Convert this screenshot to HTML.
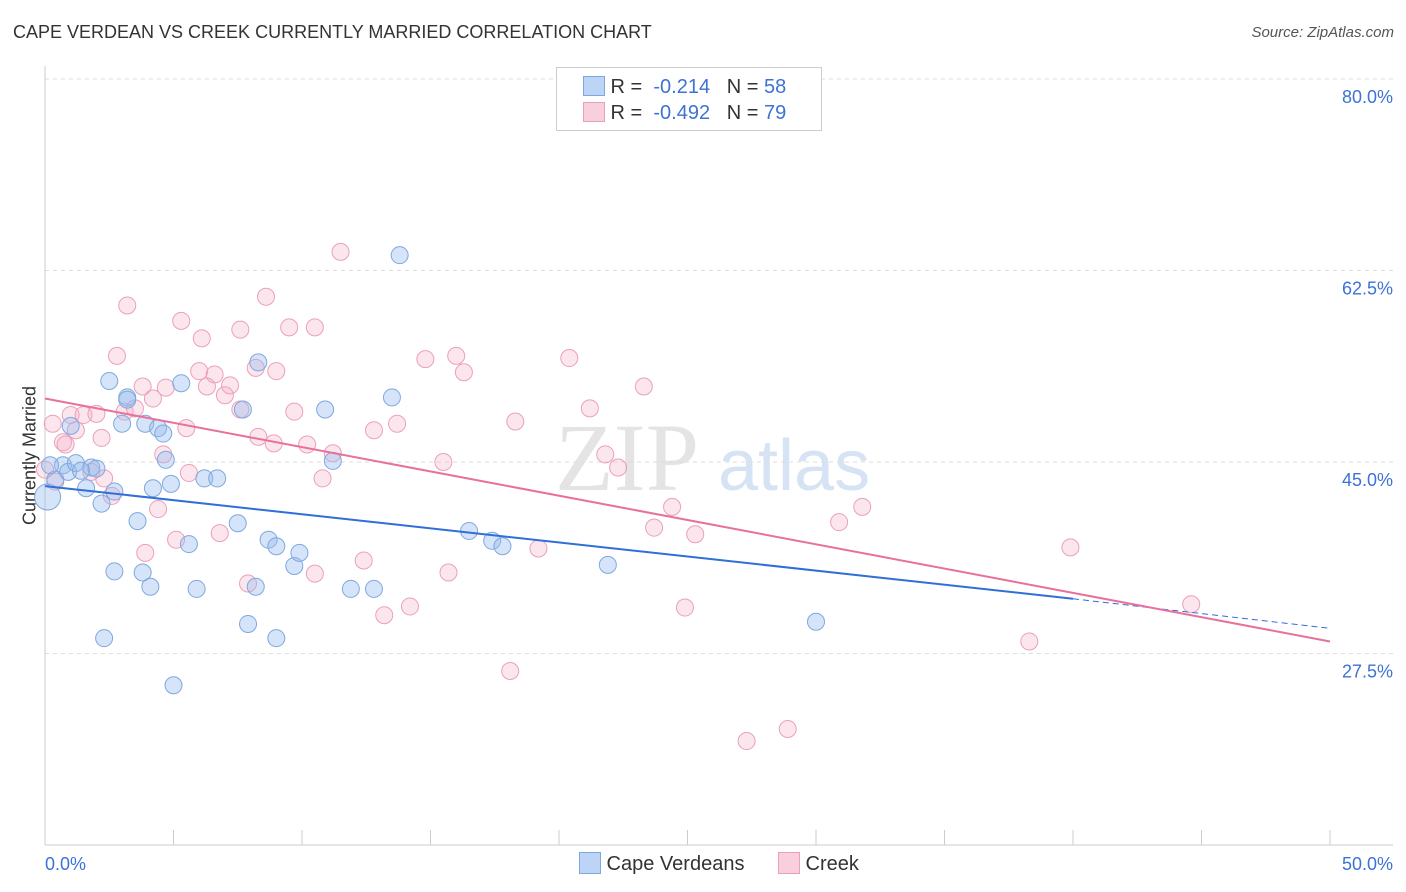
<!DOCTYPE html>
<html><head><meta charset="utf-8">
<style>
body{margin:0;background:#fff;font-family:"Liberation Sans",sans-serif;}
#wrap{position:relative;width:1406px;height:892px;overflow:hidden;}
.t{position:absolute;white-space:nowrap;}
</style></head>
<body>
<div id="wrap">
<div class="t" style="left:13px;top:22px;font-size:18px;color:#333;">CAPE VERDEAN VS CREEK CURRENTLY MARRIED CORRELATION CHART</div>
<div class="t" style="right:12px;top:24px;font-size:15px;color:#555;font-style:italic;">Source: ZipAtlas.com</div>
<div class="t" style="left:-40px;top:445px;font-size:18px;color:#333;transform:rotate(-90deg);transform-origin:center;width:140px;text-align:center;">Currently Married</div>
<svg id="svg" width="1406" height="892" style="position:absolute;left:0;top:0"></svg>
</div>
<script>
const blueX=[0.1,0.4,0.7,0.9,1.0,1.2,1.6,1.8,2.0,2.2,2.3,2.5,2.7,2.7,3.0,3.2,3.2,3.6,3.8,3.9,4.1,4.2,4.4,4.6,4.7,4.9,5.0,5.3,5.6,5.9,6.2,6.7,7.5,7.7,7.9,8.2,8.3,8.7,9.0,9.0,9.7,9.9,10.9,11.2,11.9,12.8,13.5,13.8,16.5,17.4,17.8,21.9,30.0,0.2,1.4];
const blueY=[41.8,43.4,44.7,44.1,48.3,44.9,42.6,44.5,44.4,41.2,28.9,52.4,42.3,35.0,48.5,50.9,50.7,39.6,34.9,48.5,33.6,42.6,48.1,47.6,45.2,43.0,24.6,52.2,37.5,33.4,43.5,43.5,39.4,49.8,30.2,33.6,54.1,37.9,37.3,28.9,35.5,36.7,49.8,45.1,33.4,33.4,50.9,63.9,38.7,37.8,37.3,35.6,30.4,44.7,44.2];
const pinkX=[0,0.3,0.4,0.7,0.8,1.0,1.2,1.5,1.8,2.0,2.2,2.3,2.6,2.8,3.1,3.2,3.5,3.9,3.8,4.2,4.4,4.6,4.7,5.1,5.3,5.5,5.6,6.1,6.0,6.3,6.6,6.8,7.0,7.2,7.6,7.6,7.9,8.2,8.3,8.6,8.9,9.0,9.5,9.7,10.2,10.5,10.5,10.8,11.2,11.5,12.4,12.8,13.2,13.7,14.2,14.8,15.5,15.7,16.0,16.3,18.1,18.3,19.2,20.4,21.2,21.8,22.3,23.3,23.7,24.4,24.9,25.3,27.3,28.9,30.9,31.8,38.3,39.9,44.6];
const pinkY=[44.3,48.5,43.2,46.8,46.6,49.3,47.9,49.3,44.1,49.4,47.2,43.5,41.9,54.7,49.6,59.3,49.9,36.7,51.9,50.8,40.7,45.7,51.8,37.9,57.9,48.1,44.0,56.3,53.3,51.9,53.0,38.5,51.1,52.0,49.8,57.1,33.9,53.6,47.3,60.1,46.7,53.3,57.3,49.6,46.6,34.8,57.3,43.5,45.8,64.2,36.0,47.9,31.0,48.5,31.8,54.4,45.0,34.9,54.7,53.2,25.9,48.7,37.1,54.5,49.9,45.7,44.5,51.9,39.0,40.9,31.7,38.4,19.5,20.6,39.5,40.9,28.6,37.2,32.0];
const yTicks=[80.0,62.5,45.0,27.5];
const blueLine=[[0,42.8],[40,32.5],[50,29.8]];
const pinkLine=[[0,50.8],[50,28.6]];

const X0=45,X1=1330,Y80=79,PPU=191.5/17.5;
const sx=v=>X0+(v/50)*(X1-X0);
const sy=v=>Y80+(80-v)*PPU;
const svg=document.getElementById('svg');
const NS='http://www.w3.org/2000/svg';
function mk(tag,attrs,parent){const e=document.createElementNS(NS,tag);for(const k in attrs)e.setAttribute(k,attrs[k]);(parent||svg).appendChild(e);return e;}

// watermark
let wm=mk('text',{x:555,y:490,'font-size':96,'font-family':'Liberation Serif, serif',fill:'#e4e4e4'});wm.textContent='ZIP';


let wm2=mk('text',{x:718,y:490,'font-size':72,'font-family':'Liberation Sans, sans-serif',fill:'#d6e3f5'});wm2.textContent='atlas';



yTicks.forEach(v=>{
  const g=mk('line',{x1:X0,x2:1393,y1:sy(v),y2:sy(v),stroke:'#ddd','stroke-dasharray':'4,4'});
  
  
  const t=mk('text',{x:1393,y:sy(v)+24,'text-anchor':'end','font-size':18,fill:'#3d72d6','font-family':'Liberation Sans, sans-serif'});
  t.textContent=v.toFixed(1)+'%';
  
  
});
mk('line',{x1:X0,x2:X0,y1:66,y2:845,stroke:'#ccc'});
const ax=mk('line',{x1:X0,x2:1393,y1:845,y2:845,stroke:'#ccc'});


for(let i=0;i<=10;i++){mk('line',{x1:sx(i*5),x2:sx(i*5),y1:830,y2:845,stroke:'#ccc'});}
[[0,'0.0%','start',45],[50,'50.0%','end',1393]].forEach(a=>{
  const t=mk('text',{x:a[3],y:870,'text-anchor':a[2],'font-size':18,fill:'#3d72d6','font-family':'Liberation Sans, sans-serif'});
  t.textContent=a[1];
  
  
});

function dots(xs,ys,fill,stroke,name){
  xs.forEach((x,i)=>{
    const c=mk('circle',{cx:sx(x),cy:sy(ys[i]),r:(name==='blue-point'&&i===0)?13:8.5,fill:fill,stroke:stroke,'stroke-width':1});
    
    
  });
}
dots(pinkX,pinkY,'rgba(246,172,198,0.3)','#eba0ba','pink-point');
dots(blueX,blueY,'rgba(150,188,238,0.4)','#7fa8de','blue-point');

const bl=mk('line',{x1:sx(blueLine[0][0]),y1:sy(blueLine[0][1]),x2:sx(blueLine[1][0]),y2:sy(blueLine[1][1]),stroke:'#2f6fd6','stroke-width':2});


const bd=mk('line',{x1:sx(blueLine[1][0]),y1:sy(blueLine[1][1]),x2:sx(blueLine[2][0]),y2:sy(blueLine[2][1]),stroke:'#2f6fd6','stroke-width':1,'stroke-dasharray':'6,4'});


const pl=mk('line',{x1:sx(pinkLine[0][0]),y1:sy(pinkLine[0][1]),x2:sx(pinkLine[1][0]),y2:sy(pinkLine[1][1]),stroke:'#e8709a','stroke-width':2});


</script>
<div class="t" style="left:556px;top:67px;width:264px;height:62px;border:1px solid #ccc;background:#fff;font-size:20px;color:#333;">
 <div style="position:absolute;left:26px;top:8px;"><span style="display:inline-block;width:20px;height:18px;background:#bcd5f6;border:1px solid #7fa8de;vertical-align:-3px;"></span> R = &nbsp;<span style="color:#3d72d6">-0.214</span> &nbsp;&nbsp;N = <span style="color:#3d72d6">58</span></div>
 <div style="position:absolute;left:26px;top:34px;"><span style="display:inline-block;width:20px;height:18px;background:#f9cfdd;border:1px solid #eba0ba;vertical-align:-3px;"></span> R = &nbsp;<span style="color:#3d72d6">-0.492</span> &nbsp;&nbsp;N = <span style="color:#3d72d6">79</span></div>
</div>
<div class="t" style="left:579px;top:852px;font-size:20px;color:#333;">
 <span><span style="display:inline-block;width:20px;height:20px;background:#bcd5f6;border:1px solid #7fa8de;vertical-align:-4px;"></span> Cape Verdeans</span>
 <span style="margin-left:28px;"><span style="display:inline-block;width:20px;height:20px;background:#f9cfdd;border:1px solid #eba0ba;vertical-align:-4px;"></span> Creek</span>
</div>
</body></html>
